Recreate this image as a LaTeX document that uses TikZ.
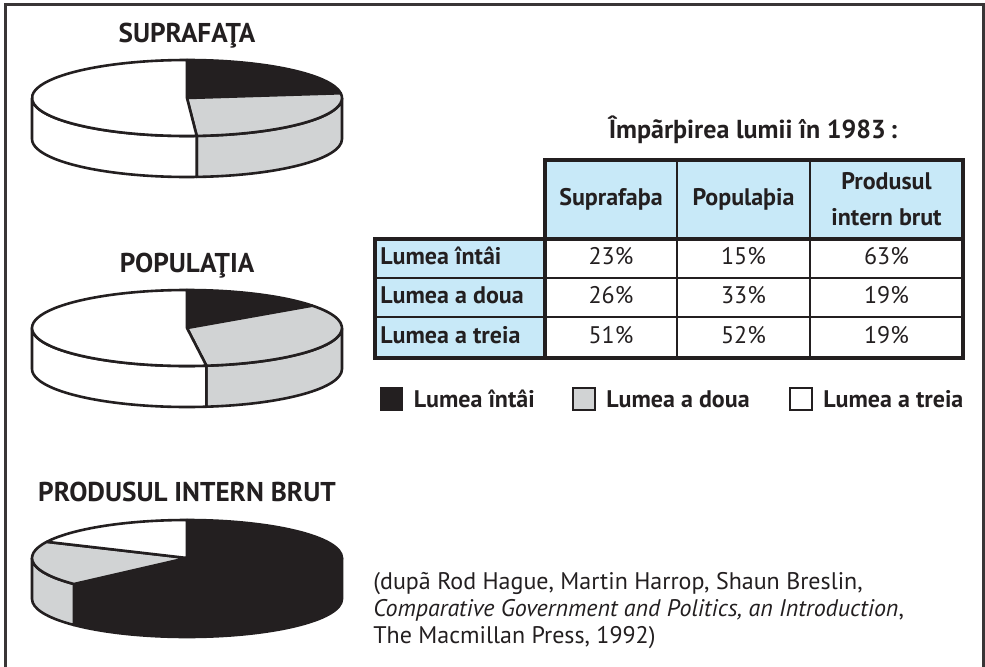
\documentclass[tikz,border=0pt]{standalone}
\usepackage{fontspec}
\setmainfont{PT Sans}
\usetikzlibrary{positioning}
\definecolor{ink}{HTML}{231F20}
\definecolor{pieGray}{HTML}{D1D3D4}
\definecolor{cellBlue}{HTML}{C8E9F8}

\begin{document}
\begin{tikzpicture}[x=0.5pt,y=0.5pt,text=ink,
    pie/.style={draw=ink,line width=1.3pt,line join=round},
    title/.style={anchor=base,font=\bfseries\fontsize{13.6}{15}\selectfont},
    head/.style={align=center,font=\bfseries\fontsize{12}{18}\selectfont},
    rowlab/.style={anchor=base west,inner sep=0pt,font=\bfseries\fontsize{12}{14}\selectfont},
    cell/.style={anchor=base,font=\fontsize{12}{14}\selectfont},
    thinrule/.style={draw=ink,line width=0.8pt},
    thickrule/.style={draw=ink,line width=2pt,line join=miter},
    key/.style={draw=ink,line width=0.9pt,minimum size=11pt,inner sep=0pt},
    keylab/.style={font=\bfseries\fontsize{12}{14}\selectfont,inner sep=0pt},
    src/.style={anchor=base west,inner sep=0pt,font=\fontsize{12}{13.5}\selectfont}]
  \useasboundingbox (0,0) rectangle (985,666);
  \draw[ink!90,line width=1.5pt] (5,-10) -- (5,661) -- (983,661) -- (983,-10);

  % titles of the pies
  \node[title] (t1) at (187,624) {SUPRAFAŢA};
  \node[title] (t2) at (187,394) {POPULAŢIA};
  \node[title] (t3) at (187,165) {PRODUSUL INTERN BRUT};

  % sides of the pies
  \foreach \cy/\col/\p/\q in {568/pieGray/0/-86.4, 568/white/-86.4/-180,
                              338/pieGray/0/-82.8, 338/white/-82.8/-180,
                              108/ink/0/-136.8, 108/pieGray/-136.8/-180}
    \filldraw[pie,fill=\col,shift={(187,\cy)}] (\p:155 and 38)
      arc[start angle=\p,end angle=\q,x radius=155,y radius=38] -- ++(0,-41)
      arc[start angle=\q,end angle=\p,x radius=155,y radius=38] -- cycle;

  % tops of the pies
  \foreach \cy/\col/\s/\e in {568/ink/90/7.2, 568/pieGray/7.2/-86.4, 568/white/-86.4/-270,
                              338/ink/90/36, 338/pieGray/36/-82.8, 338/white/-82.8/-270,
                              108/ink/90/-136.8, 108/pieGray/-136.8/-205.2, 108/white/-205.2/-270}
    \filldraw[pie,fill=\col,shift={(187,\cy)}] (0,0) -- (\s:155 and 38)
      arc[start angle=\s,end angle=\e,x radius=155,y radius=38] -- cycle;

  % table
  \node[title,font=\bfseries\fontsize{13}{15}\selectfont] (tab) at (753,528) {Împãrþirea lumii în 1983\,:};
  \fill[cellBlue] (545,427) rectangle (963,506);
  \fill[cellBlue] (375,308) rectangle (545,427);
  \draw[thinrule] (375,388) -- (963,388) (375,349) -- (963,349);
  \draw[thinrule,line width=1.2pt] (677,308) -- (677,506) (810,308) -- (810,506);
  \draw[thickrule] (545,308) -- (545,506) -- (963,506) -- (963,308) -- (375,308)
    -- (375,427) -- (963,427);

  \node[head] (h1) at (611,466.5) {Suprafaþa};
  \node[head] (h2) at (743.5,466.5) {Populaþia};
  \node[head] (h3) at (886.5,466.5) {Produsul\\intern brut};

  \foreach \r/\y/\name/\a/\b/\c in {1/401.5/Lumea întâi/23/15/63,
                                    2/362.5/Lumea a doua/26/33/19,
                                    3/322.5/Lumea a treia/51/52/19} {
    \node[rowlab] (r\r) at (380,\y) {\name};
    \node[cell] (a\r) at (611,\y) {\a\%};
    \node[cell] (b\r) at (743.5,\y) {\b\%};
    \node[cell] (c\r) at (886.5,\y) {\c\%};
  }

  % legend
  \node[key,fill=ink] (k1) at (391.5,267) {};
  \node[keylab] (l1) [right=5pt of k1] {Lumea întâi};
  \node[key,fill=pieGray] (k2) at (584,267) {};
  \node[keylab] (l2) [right=5pt of k2] {Lumea a doua};
  \node[key,fill=white] (k3) at (801,267) {};
  \node[keylab] (l3) [right=5pt of k3] {Lumea a treia};

  % source
  \node[src] (s1) at (373,77) {(dupã Rod Hague, Martin Harrop, Shaun Breslin,};
  \node[src] (s2) at (373,50) {\textit{Comparative Government and Politics, an Introduction},};
  \node[src] (s3) at (373,23) {The Macmillan Press, 1992)};
\end{tikzpicture}
\end{document}
